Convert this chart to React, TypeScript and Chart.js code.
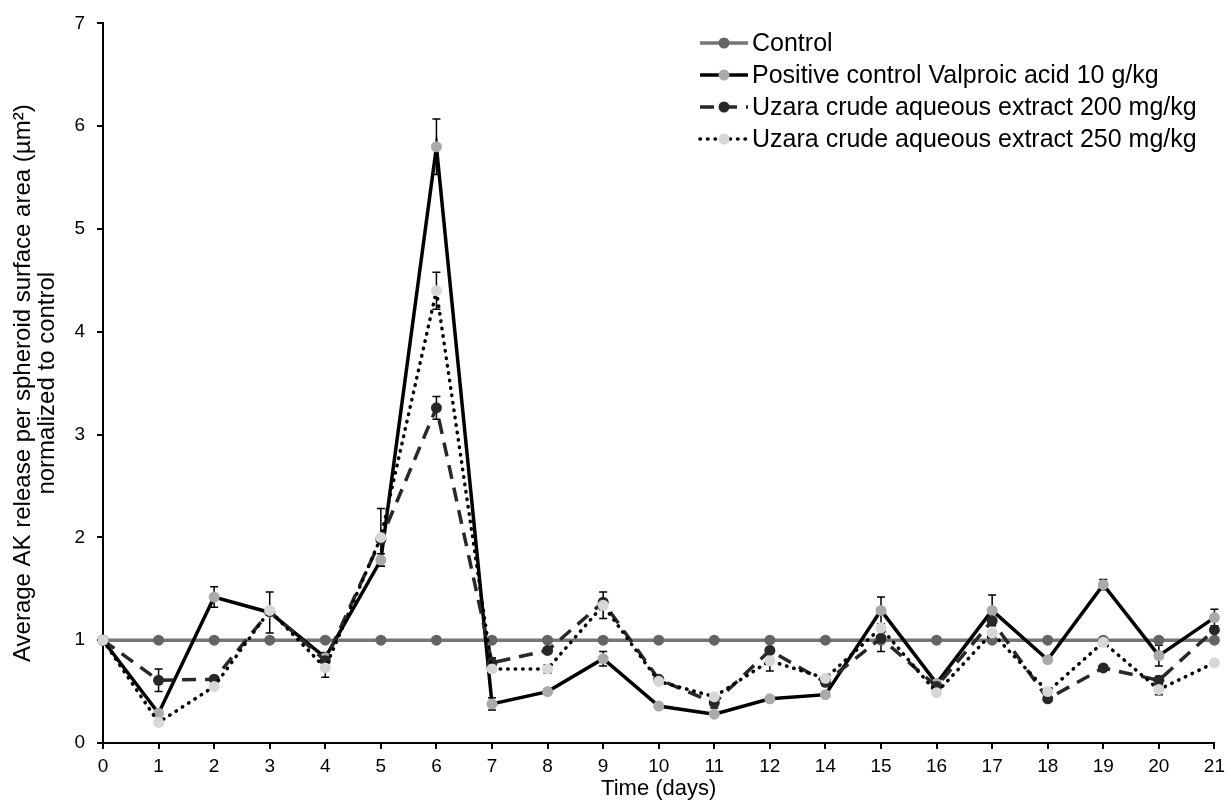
import React, { useEffect, useRef } from "react";
import { Chart, registerables } from "chart.js";

Chart.register(...registerables);

const days = ["0", "1", "2", "3", "4", "5", "6", "7", "8", "9", "10", "11", "12", "14", "15", "16", "17", "18", "19", "20", "21"];
const yTicks = [0, 1, 2, 3, 4, 5, 6, 7];

const controlValues = [1, 1, 1, 1, 1, 1, 1, 1, 1, 1, 1, 1, 1, 1, 1, 1, 1, 1, 1, 1, 1];
const valproicValues = [1, 0.29, 1.42, 1.27, 0.83, 1.78, 5.8, 0.38, 0.5, 0.82, 0.36, 0.28, 0.43, 0.47, 1.29, 0.58, 1.29, 0.81, 1.54, 0.85, 1.22];
const uzara200Values = [1, 0.61, 0.62, 1.28, 0.8, 1.98, 3.26, 0.78, 0.9, 1.37, 0.62, 0.39, 0.9, 0.59, 1.02, 0.55, 1.19, 0.43, 0.73, 0.61, 1.1];
const uzara250Values = [1, 0.2, 0.55, 1.29, 0.73, 2.0, 4.4, 0.72, 0.72, 1.34, 0.6, 0.45, 0.8, 0.63, 1.12, 0.49, 1.07, 0.5, 0.98, 0.52, 0.78];

const valproicErrors = [0, 0, 0.1, 0.2, 0.05, 0.06, 0.27, 0.06, 0, 0.07, 0, 0, 0, 0, 0.13, 0, 0.15, 0, 0.05, 0.1, 0.08];
const uzara200Errors = [0, 0.11, 0, 0, 0, 0, 0.11, 0.05, 0, 0, 0, 0.05, 0, 0, 0.13, 0, 0, 0, 0, 0.04, 0];
const uzara250Errors = [0, 0, 0, 0, 0.09, 0.28, 0.18, 0, 0.04, 0.13, 0, 0, 0.1, 0, 0, 0, 0, 0, 0.04, 0.05, 0];

const seriesLabels = [
  "Control",
  "Positive control Valproic acid 10 g/kg",
  "Uzara crude aqueous extract 200 mg/kg",
  "Uzara crude aqueous extract 250 mg/kg",
];

const FONT = "'Liberation Sans', Arial, Helvetica, sans-serif";

const errorBarPlugin = {
  id: "errorBars",
  beforeDatasetsDraw(chart: any) {
    const { ctx } = chart;
    const y = chart.scales.y;
    ctx.save();
    ctx.strokeStyle = "#000";
    ctx.lineWidth = 1.5;
    ctx.setLineDash([]);
    chart.data.datasets.forEach((ds: any, di: number) => {
      const errs: number[] | undefined = ds.errors;
      if (!errs) return;
      const meta = chart.getDatasetMeta(di);
      errs.forEach((e, i) => {
        if (!e) return;
        const v = ds.data[i];
        const px = meta.data[i].x;
        const yTop = y.getPixelForValue(v + e);
        const yBot = y.getPixelForValue(v - e);
        ctx.beginPath();
        ctx.moveTo(px, yTop);
        ctx.lineTo(px, yBot);
        ctx.moveTo(px - 4, yTop);
        ctx.lineTo(px + 4, yTop);
        ctx.moveTo(px - 4, yBot);
        ctx.lineTo(px + 4, yBot);
        ctx.stroke();
      });
    });
    ctx.restore();
  },
};

const legendPlugin = {
  id: "customLegend",
  afterDraw(chart: any) {
    const { ctx } = chart;
    ctx.save();
    chart.data.datasets.forEach((ds: any, i: number) => {
      const yy = 43 + 32 * i;
      ctx.beginPath();
      ctx.setLineDash(ds.borderDash || []);
      ctx.lineCap = ds.borderCapStyle || "butt";
      ctx.strokeStyle = ds.borderColor;
      ctx.lineWidth = ds.borderWidth;
      ctx.moveTo(700, yy);
      ctx.lineTo(748, yy);
      ctx.stroke();
      ctx.setLineDash([]);
      ctx.beginPath();
      ctx.arc(724, yy, 5.5, 0, Math.PI * 2);
      ctx.fillStyle = ds.pointBackgroundColor;
      ctx.fill();
      ctx.fillStyle = "#000";
      ctx.font = `25px ${FONT}`;
      ctx.textBaseline = "middle";
      ctx.textAlign = "left";
      ctx.fillText(ds.label, 752, yy + 1);
    });
    ctx.restore();
  },
};

export default function App() {
  const canvasRef = useRef<HTMLCanvasElement | null>(null);

  useEffect(() => {
    if (!canvasRef.current) return;
    const chart = new Chart(canvasRef.current, {
      type: "line",
      data: {
        labels: days,
        datasets: [
          {
            label: seriesLabels[0],
            data: controlValues,
            borderColor: "rgb(118,118,118)",
            borderWidth: 3.5,
            pointBackgroundColor: "rgb(100,100,100)",
            pointBorderWidth: 0,
            pointRadius: 5.5,
            order: 4,
          },
          {
            label: seriesLabels[1],
            data: valproicValues,
            borderColor: "#000",
            borderWidth: 3.5,
            pointBackgroundColor: "rgb(170,170,170)",
            pointBorderWidth: 0,
            pointRadius: 5.5,
            order: 3,
            errors: valproicErrors,
          } as any,
          {
            label: seriesLabels[2],
            data: uzara200Values,
            borderColor: "rgb(40,40,40)",
            borderWidth: 3.5,
            borderDash: [14, 9],
            pointBackgroundColor: "rgb(40,40,40)",
            pointBorderWidth: 0,
            pointRadius: 5.5,
            order: 2,
            errors: uzara200Errors,
          } as any,
          {
            label: seriesLabels[3],
            data: uzara250Values,
            borderColor: "#000",
            borderWidth: 3.5,
            borderDash: [0.5, 7],
            borderCapStyle: "round",
            pointBackgroundColor: "rgb(215,215,215)",
            pointBorderWidth: 0,
            pointRadius: 5.5,
            order: 1,
            errors: uzara250Errors,
          } as any,
        ],
      },
      options: {
        responsive: false,
        animation: false,
        devicePixelRatio: 1,
        layout: { padding: { left: 0, top: 20, right: 14, bottom: 0 } },
        plugins: {
          legend: { display: false },
          tooltip: { enabled: false },
        },
        elements: { line: { tension: 0 } },
        scales: {
          x: {
            type: "category",
            offset: false,
            grid: {
              drawOnChartArea: false,
              drawTicks: true,
              tickLength: 6,
              color: "#000",
              lineWidth: 2,
            },
            border: { display: true, color: "#000", width: 2 },
            ticks: {
              color: "#000",
              font: { family: FONT, size: 19 },
              padding: 6,
              maxRotation: 0,
              autoSkip: false,
            },
            title: {
              display: true,
              text: "Time (days)",
              color: "#000",
              font: { family: FONT, size: 22 },
              padding: { top: 0, bottom: 3 },
            },
            afterFit(scale: any) {
              scale.height = 62;
            },
          },
          y: {
            min: 0,
            max: 7,
            afterBuildTicks(scale: any) {
              scale.ticks = yTicks.map((v) => ({ value: v }));
            },
            grid: {
              drawOnChartArea: false,
              drawTicks: true,
              tickLength: 6,
              color: "#000",
              lineWidth: 2,
            },
            border: { display: true, color: "#000", width: 2 },
            ticks: {
              color: "#000",
              font: { family: FONT, size: 19 },
              padding: 12,
            },
            title: {
              display: true,
              text: ["Average AK release per spheroid surface area (µm²)", "normalized to control"],
              color: "#000",
              font: { family: FONT, size: 24, lineHeight: 1.0 },
              padding: { top: 11, bottom: 0 },
            },
            afterFit(scale: any) {
              scale.width = 103;
            },
          },
        },
      } as any,
      plugins: [errorBarPlugin, legendPlugin],
    });
    return () => chart.destroy();
  }, []);

  return (
    <div style={{ position: "absolute", left: 0, top: 0, width: 1231, height: 805, background: "#fff" }}>
      <canvas ref={canvasRef} width={1231} height={805} style={{ display: "block" }} />
    </div>
  );
}
